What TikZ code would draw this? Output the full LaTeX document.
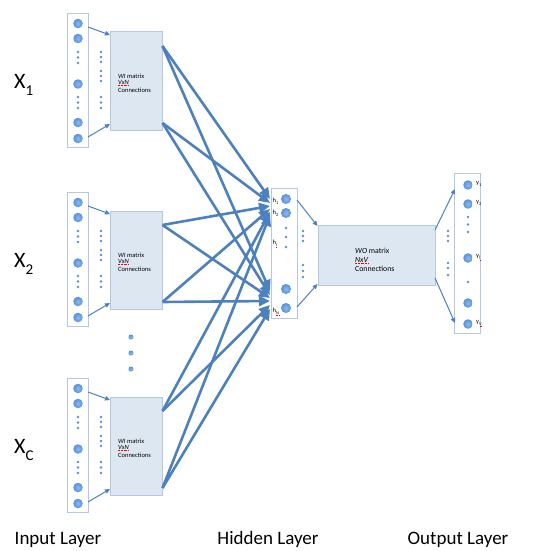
\documentclass[tikz,border=0pt]{standalone}
\usepackage{fontspec}
\setmainfont{Carlito}
\usetikzlibrary{arrows.meta}
\definecolor{arrowblue}{RGB}{76,129,190}
\definecolor{boxfill}{RGB}{221,231,242}
\definecolor{boxline}{RGB}{180,200,226}
\definecolor{dotblue}{RGB}{88,146,218}
\definecolor{dotlight}{RGB}{140,185,235}
\newcommand{\bigX}[1]{{\fontsize{22}{22}\selectfont X\raisebox{-0.28em}{\fontsize{15}{15}\selectfont #1}}}
\newcommand{\tinysub}[2]{{\fontsize{6.5}{6.5}\selectfont #1\raisebox{-0.25em}{\fontsize{4.3}{4.3}\selectfont #2}}}
\tikzset{
  colbox/.style={draw=boxline, line width=0.9pt, fill=white},
  matbox/.style={draw=boxline, line width=0.9pt, fill=boxfill},
  neuron/.style={circle, inner sep=0pt, minimum size=9.5pt, inner color=dotlight, outer color=dotblue},
  sdot/.style={circle, fill=dotblue, inner sep=0pt, minimum size=2.8pt},
  bdot/.style={circle, inner sep=0pt, minimum size=5pt, inner color=dotlight, outer color=dotblue},
  thinarrow/.style={draw=arrowblue, line width=1pt, -{Triangle[length=5pt,width=4.5pt]}},
  bigarrow/.style={draw=arrowblue, line width=2.6pt, -{Triangle[length=11pt,width=10pt]}},
  mattext/.style={anchor=west, inner sep=0pt, font=\fontsize{6.5}{6.5}\selectfont},
  wotext/.style={anchor=west, inner sep=0pt, font=\fontsize{7.8}{7.8}\selectfont},
  spell/.style={draw=red, line width=0.4pt, densely dotted},
  layerlabel/.style={anchor=base, inner sep=0pt, font=\fontsize{19}{19}\selectfont},
  lbl/.style={anchor=west, inner sep=0pt},
}
\begin{document}
\begin{tikzpicture}[x=1pt,y=-1pt]
\useasboundingbox (0,0) rectangle (533,551);

% ---------- input blocks ----------
\foreach \i/\t/\lab in {1/13/1, 2/192/2, 3/378/C} {
  \node[colbox, minimum width=21pt, minimum height=134pt, inner sep=0pt, anchor=north west] (col\i) at (67,\t) {};
  \node[matbox, minimum width=52pt, minimum height=98.5pt, inner sep=0pt, anchor=north west] (box\i) at (110,\t+18.5) {};
  \foreach \dy [count=\k] in {10.5,25.5,71,109.5,125.5}
    \node[neuron] (in\i n\k) at (78,\t+\dy) {};
  \foreach \dy [count=\k] in {39,44.5,50,84,89.5,95}
    \node[sdot] (in\i d\k) at (78,\t+\dy) {};
  \foreach \dy [count=\k] in {39,44,49,58,63,68,84,89.5,95}
    \node[sdot] (in\i m\k) at (101,\t+\dy) {};
  \node[mattext] (wi\i) at (118,\t+63) {\textit{WI} matrix};
  \node[mattext] (vxn\i) at (118,\t+69.5) {\textit{VxN}};
  \node[mattext] (con\i) at (118,\t+77) {Connections};
  \draw[spell] ([yshift=-0.6pt]vxn\i.south west) -- ([yshift=-0.6pt]vxn\i.south east);
  \coordinate (a\i s) at (88,\t+14);
  \coordinate (a\i e) at (110,\t+22);
  \coordinate (b\i s) at (88,\t+124);
  \coordinate (b\i e) at (110,\t+111);
  \draw[thinarrow] (a\i s) -- (a\i e);
  \draw[thinarrow] (b\i s) -- (b\i e);
  \node[lbl] (X\i) at (14,\t+72) {\bigX{\lab}};
  \coordinate (src\i a) at (162.5,\t+33);
  \coordinate (src\i b) at (162.5,\t+110);
}

% dots between block 2 and 3
\node[bdot] (vd1) at (131,337) {};
\node[bdot] (vd2) at (131,353) {};
\node[bdot] (vd3) at (131,369) {};

% ---------- hidden layer ----------
\node[colbox, minimum width=26pt, minimum height=130pt, inner sep=0pt, anchor=north west] (hid) at (271,188) {};
\foreach \y [count=\k] in {199,213,289,308}
  \node[neuron, minimum size=10pt] (h\k) at (286,\y) {};
\foreach \y [count=\k] in {228,237,247}
  \node[sdot] (hd\k) at (286,\y) {};
\node[lbl] (hl1) at (272.5,201.5) {\tinysub{h}{1}};
\node[lbl] (hl2) at (272.5,213) {\tinysub{h}{2}};
\node[lbl] (hl3) at (272.5,243) {\tinysub{h}{i}};
\node[lbl] (hl4) at (272.5,311) {\tinysub{h}{N}};
\draw[spell] ([xshift=3.5pt,yshift=-0.5pt]hl3.south west) -- ([yshift=-0.5pt]hl3.south east);
\draw[spell] ([xshift=3.5pt,yshift=-0.5pt]hl4.south west) -- ([yshift=-0.5pt]hl4.south east);

% dots between hidden and WO
\foreach \y [count=\k] in {231,236,241,265,271,277}
  \node[sdot] (hm\k) at (303,\y) {};

% WO box
\node[matbox, minimum width=117pt, minimum height=60pt, inner sep=0pt, anchor=north west] (wo) at (318,225) {};
\node[wotext] (wot1) at (355,251) {\textit{WO} matrix};
\node[wotext] (wot2) at (355,259.5) {\textit{NxV}};
\node[wotext] (wot3) at (355,269) {Connections};
\draw[spell] ([yshift=-0.6pt]wot2.south west) -- ([yshift=-0.6pt]wot2.south east);

\coordinate (hw1s) at (297,200);
\coordinate (hw1e) at (317.5,226);
\coordinate (hw2s) at (297,307);
\coordinate (hw2e) at (317.5,284);
\draw[thinarrow] (hw1s) -- (hw1e);
\draw[thinarrow] (hw2s) -- (hw2e);

% dots between WO and output
\foreach \y [count=\k] in {231,236,241,263,268,275}
  \node[sdot] (om\k) at (448,\y) {};

% ---------- output layer ----------
\node[colbox, minimum width=26pt, minimum height=160pt, inner sep=0pt, anchor=north west] (out) at (454,173) {};
\foreach \y [count=\k] in {185,204,258,303,324}
  \node[neuron] (o\k) at (468,\y) {};
\foreach \y [count=\k] in {217,224.5,232,282}
  \node[sdot] (od\k) at (468,\y) {};
\node[lbl] (yl1) at (476,184) {\tinysub{y}{1}};
\node[lbl] (yl2) at (476,203) {\tinysub{y}{2}};
\node[lbl] (yl3) at (476,257) {\tinysub{y}{j}};
\node[lbl] (yl4) at (476,323) {\tinysub{y}{V}};
\draw[spell] ([xshift=3.5pt,yshift=-0.5pt]yl3.south west) -- ([yshift=-0.5pt]yl3.south east);
\draw[spell] ([xshift=3.5pt,yshift=-0.5pt]yl4.south west) -- ([yshift=-0.5pt]yl4.south east);

\coordinate (wo1s) at (435,230);
\coordinate (wo1e) at (455,189);
\coordinate (wo2s) at (435,278);
\coordinate (wo2e) at (455,323);
\draw[thinarrow] (wo1s) -- (wo1e);
\draw[thinarrow] (wo2s) -- (wo2e);

% ---------- big arrows to hidden layer ----------
\coordinate (t1) at (270,199);
\coordinate (t2) at (270,203);
\coordinate (t3) at (270,206);
\coordinate (t4) at (270,209);
\coordinate (t5) at (270,212);
\coordinate (t6) at (270,215);
\coordinate (n1) at (270,291);
\coordinate (n2) at (270,295);
\coordinate (n3) at (270,298);
\coordinate (n4) at (270,301);
\coordinate (n5) at (270,305);
\coordinate (n6) at (270,309);
\draw[bigarrow] (src1a) -- (t1);
\draw[bigarrow] (src1a) -- (n1);
\draw[bigarrow] (src1b) -- (t2);
\draw[bigarrow] (src1b) -- (n2);
\draw[bigarrow] (src2a) -- (t3);
\draw[bigarrow] (src2a) -- (n3);
\draw[bigarrow] (src2b) -- (t4);
\draw[bigarrow] (src2b) -- (n4);
\draw[bigarrow] (src3a) -- (t5);
\draw[bigarrow] (src3a) -- (n5);
\draw[bigarrow] (src3b) -- (t6);
\draw[bigarrow] (src3b) -- (n6);

% ---------- layer labels ----------
\node[layerlabel] (li) at (58,544) {Input Layer};
\node[layerlabel] (lh) at (268,544) {Hidden Layer};
\node[layerlabel] (lo) at (458,544) {Output Layer};
\end{tikzpicture}
\end{document}
